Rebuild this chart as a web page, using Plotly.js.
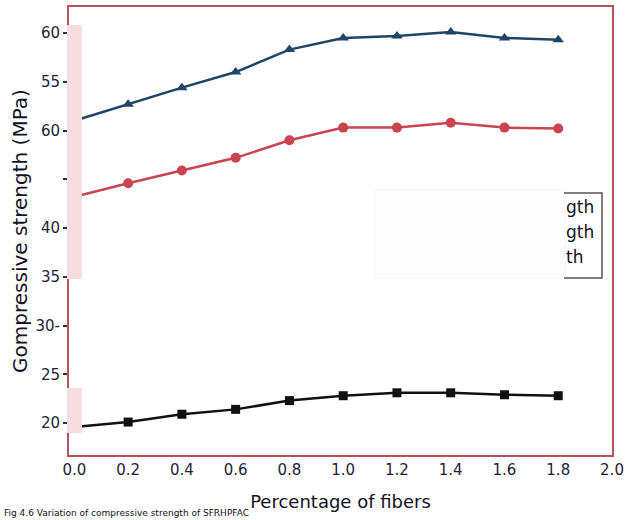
<!DOCTYPE html>
<html>
<head>
<meta charset="utf-8">
<script src="https://cdn.plot.ly/plotly-3.0.1.min.js"></script>
<style>html,body{margin:0;padding:0;background:#fff;}#chart{width:630px;height:520px;}</style>
</head>
<body>
<div id="chart"></div>
<script>
// Data
const fiberPct = [0.0, 0.2, 0.4, 0.6, 0.8, 1.0, 1.2, 1.4, 1.6, 1.8];
const seriesTop = [51.0, 52.7, 54.4, 56.0, 58.3, 59.5, 59.7, 60.1, 59.5, 59.3];
const seriesMid = [43.2, 44.6, 45.9, 47.2, 49.0, 50.3, 50.3, 50.8, 50.3, 50.2];
const seriesLow = [19.6, 20.1, 20.9, 21.4, 22.3, 22.8, 23.1, 23.1, 22.9, 22.8];
const yTickVals = [60, 55, 50, 45, 40, 35, 30, 25, 20];
const yTickText = ["60", "55", "60", "", "40", "35", "30-", "25", "20"];
const xTickVals = [0.0, 0.2, 0.4, 0.6, 0.8, 1.0, 1.2, 1.4, 1.6, 1.8, 2.0];
const xTickText = ["0.0", "0.2", "0.4", "0.6", "0.8", "1.0", "1.2", "1.4", "1.6", "1.8", "2.0"];
const legendFragments = ["gth", "gth", "th"];

const frameColor = "#b5525e";
const tickFont = {family: "DejaVu Sans", size: 15, color: "#1e1e36"};

const traces = [
  {x: fiberPct, y: seriesTop, mode: "lines+markers", line: {color: "#1f4466", width: 2.5},
   marker: {symbol: "triangle-up", size: 10, color: "#1f4466"}, showlegend: false},
  {x: fiberPct, y: seriesMid, mode: "lines+markers", line: {color: "#c9444f", width: 2.5},
   marker: {symbol: "circle", size: 10, color: "#c9444f"}, showlegend: false},
  {x: fiberPct, y: seriesLow, mode: "lines+markers", line: {color: "#111111", width: 2.5},
   marker: {symbol: "square", size: 9, color: "#111111"}, showlegend: false}
];

const ann = legendFragments.map((t, i) => ({
  xref: "paper", yref: "paper", x: 0.9116, y: 0.5536 - i * 0.0558,
  xanchor: "left", yanchor: "middle", text: t, showarrow: false,
  font: {family: "DejaVu Sans", size: 17, color: "#111122"}
}));
ann.push({
  xref: "paper", yref: "paper", x: -0.124, y: -0.1458, xanchor: "left", yanchor: "bottom",
  text: "Fig 4.6 Variation of compressive strength of SFRHPFAC", showarrow: false,
  font: {family: "DejaVu Sans", size: 9, color: "#111122"}
});

const layout = {
  width: 630, height: 520,
  margin: {l: 69, r: 18, t: 7, b: 65},
  paper_bgcolor: "#ffffff", plot_bgcolor: "#ffffff",
  xaxis: {
    range: [-0.02, 2.0], tickvals: xTickVals, ticktext: xTickText,
    showgrid: false, zeroline: false, ticks: "",
    showline: true, mirror: true, linecolor: frameColor, linewidth: 2,
    tickfont: tickFont,
    title: {text: "Percentage of fibers", font: {family: "DejaVu Sans", size: 18, color: "#111122"}, standoff: 17}
  },
  yaxis: {
    range: [16.72, 62.67], tickvals: yTickVals, ticktext: yTickText,
    showgrid: false, zeroline: false, ticks: "outside", ticklen: 4, tickwidth: 2, tickcolor: "#333333",
    showline: true, mirror: true, linecolor: frameColor, linewidth: 2,
    tickfont: tickFont,
    title: {text: "Gompressive strength (MPa)", font: {family: "DejaVu Sans", size: 20, color: "#111122"}, standoff: 3}
  },
  shapes: [
    {type: "rect", xref: "paper", yref: "paper", x0: -0.0037, x1: 0.0239, y0: 0.3929, y1: 0.9598,
     fillcolor: "#f8dde0", line: {width: 0}, layer: "above"},
    {type: "rect", xref: "paper", yref: "paper", x0: -0.0037, x1: 0.0239, y0: 0.0491, y1: 0.1496,
     fillcolor: "#f8dde0", line: {width: 0}, layer: "above"},
    {type: "rect", xref: "paper", yref: "paper", x0: 0.5635, x1: 0.9134, y0: 0.3951, y1: 0.5915,
     fillcolor: "#fdfdfd", line: {width: 1, color: "#f4f4f4"}, layer: "above"},
    {type: "path", xref: "paper", yref: "paper",
     path: "M 0.9116,0.5848 L 0.9816,0.5848 L 0.9816,0.3951 L 0.9116,0.3951",
     line: {color: "#555555", width: 1.5}, layer: "above"}
  ],
  annotations: ann
};

Plotly.newPlot("chart", traces, layout, {displayModeBar: false, staticPlot: true});
</script>
</body>
</html>
